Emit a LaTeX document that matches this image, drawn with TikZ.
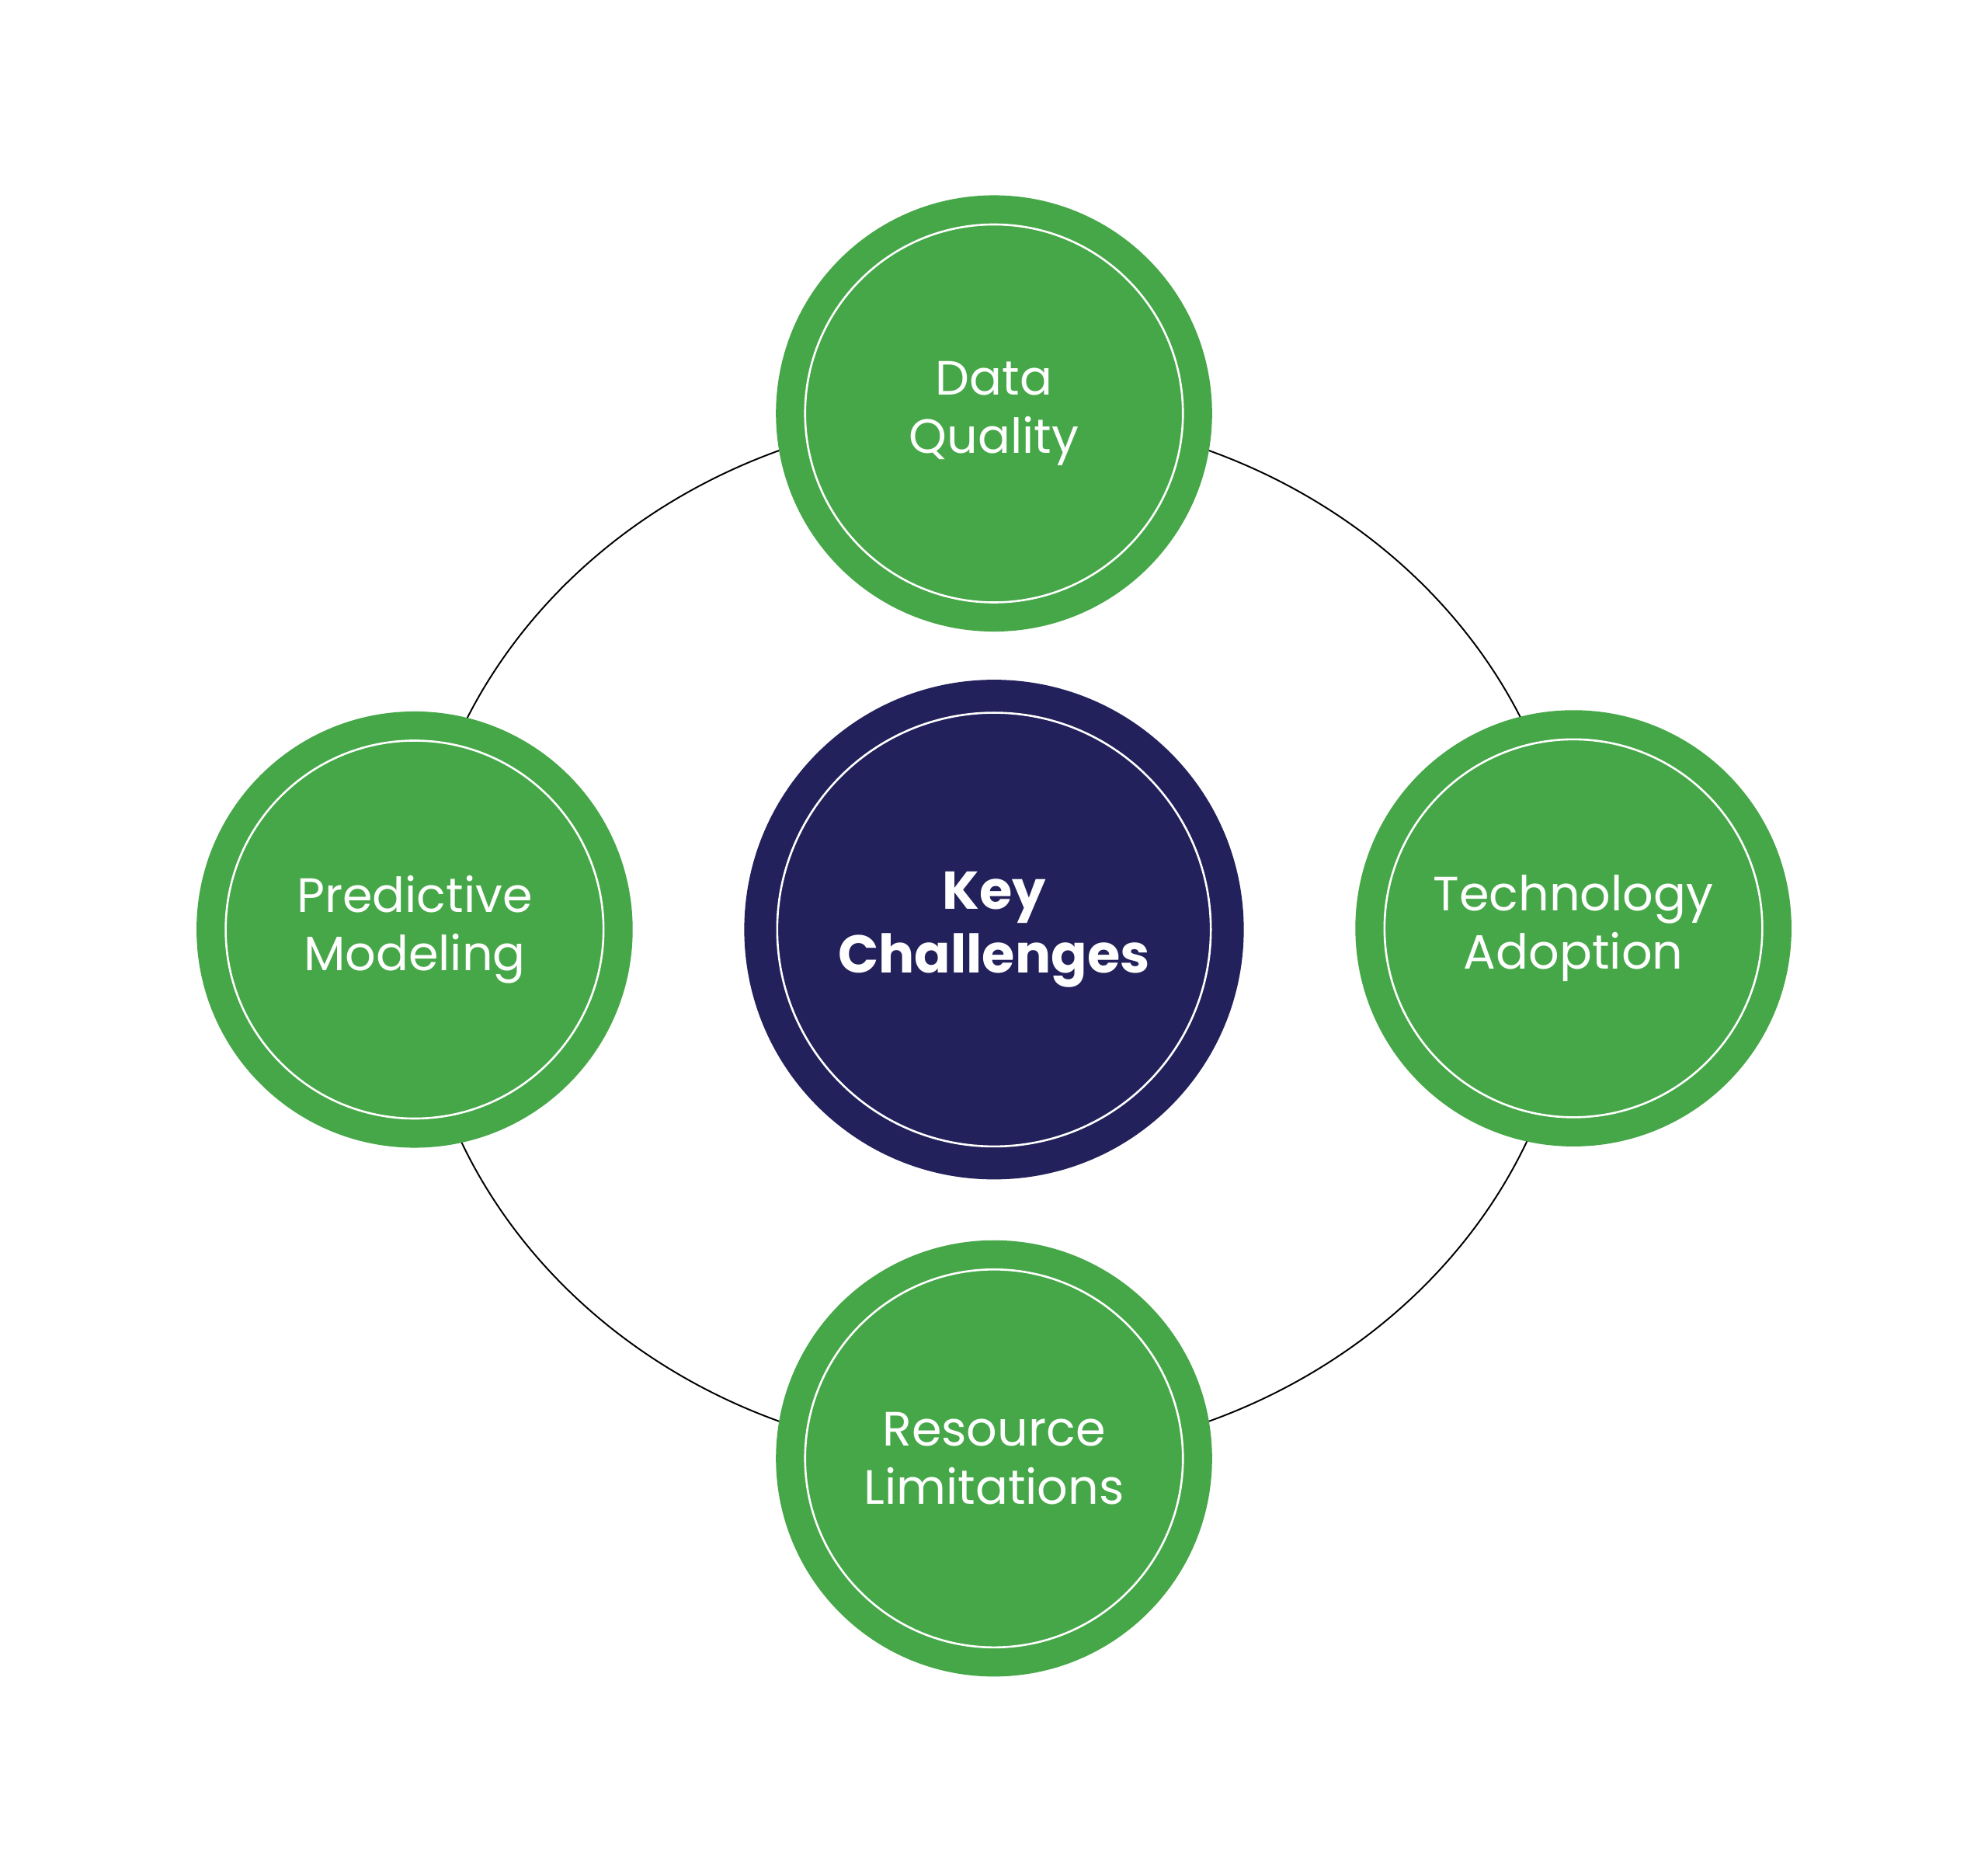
\documentclass[tikz,border=0pt]{standalone}
\usepackage{fontspec}
\setmainfont{Poppins}
\definecolor{grn}{HTML}{46A748}
\definecolor{navy}{HTML}{23215B}
\begin{document}
\begin{tikzpicture}[x=0.5pt,y=-0.5pt,
  gcirc/.style={circle,fill=grn,minimum size=172pt,inner sep=0pt,text=white,font=\fontsize{19}{23}\selectfont,align=center},
  inring/.style={draw=white,line width=0.8pt}]
\useasboundingbox[fill=white] (0,0) rectangle (1568,1465);
\draw[line width=0.6pt] (784,738) ellipse [x radius=457, y radius=412];
\node[circle,fill=navy,minimum size=197pt,inner sep=0pt,text=white,font=\bfseries\fontsize{21}{25}\selectfont,align=center] (c) at (784,733) {Key\\Challenges};
\draw[inring] (c.center) circle[radius=171];
\node[gcirc] (t) at (784,326) {Data\\Quality};
\node[gcirc] (l) at (327,733) {Predictive\\Modeling};
\node[gcirc] (r) at (1241,732) {Technology\\Adoption};
\node[gcirc] (b) at (784,1150) {Resource\\Limitations};
\foreach \n in {t,l,r,b} \draw[inring] (\n.center) circle[radius=149];
\end{tikzpicture}
\end{document}
